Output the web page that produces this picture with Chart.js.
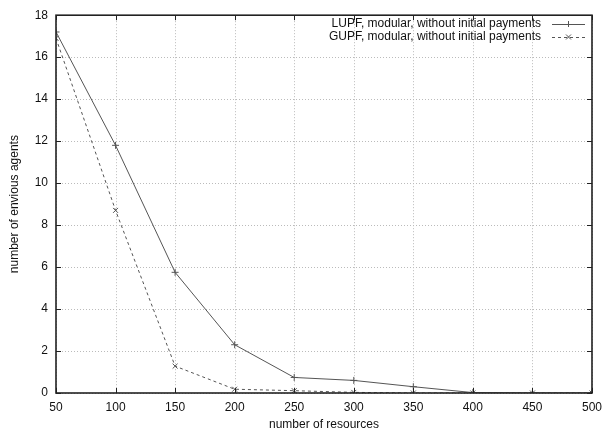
<!DOCTYPE html>
<html>
<head>
<meta charset="utf-8">
<script src="https://cdn.jsdelivr.net/npm/chart.js@4"></script>
<style>
  body { margin: 0; background: #fff; }
  #wrap { width: 609px; height: 432px; }
</style>
</head>
<body>
<div id="wrap"><canvas id="chart" width="609" height="432"></canvas></div>
<script>
// --- data ---
const resources = [50, 100, 150, 200, 250, 300, 350, 400, 450, 500];
const lupf = [17.2, 11.8, 5.75, 2.3, 0.74, 0.6, 0.3, 0.02, 0, 0];
const gupf = [16.9, 8.7, 1.28, 0.18, 0.11, 0.03, 0, 0, 0, 0];
const seriesLabels = ['LUPF, modular, without initial payments', 'GUPF, modular, without initial payments'];
const xTicks = [50, 100, 150, 200, 250, 300, 350, 400, 450, 500];
const yTicks = [0, 2, 4, 6, 8, 10, 12, 14, 16, 18];
const yTitle = 'number of envious agents';

const FONT = "'Liberation Sans', Arial, sans-serif";
const lineColor = '#555';

// dotted grid under the data
const dottedGrid = {
    id: 'dottedGrid',
    beforeDatasetsDraw(chart) {
        const c = chart.ctx;
        const a = chart.chartArea;
        const xs = chart.scales.x, ys = chart.scales.y;
        c.save();
        c.strokeStyle = '#bbb';
        c.lineWidth = 1;
        c.setLineDash([1, 2]);
        c.beginPath();
        xTicks.forEach(v => {
            const px = Math.round(xs.getPixelForValue(v)) + 0.5;
            c.moveTo(px, a.top); c.lineTo(px, a.bottom);
        });
        yTicks.forEach(v => {
            const py = Math.round(ys.getPixelForValue(v)) + 0.5;
            c.moveTo(a.left, py); c.lineTo(a.right, py);
        });
        c.stroke();
        c.restore();
    }
};

// gnuplot-ish frame, inward mirror ticks, y title and legend with samples on the right
const gnuplotFrame = {
    id: 'gnuplotFrame',
    afterDraw(chart) {
        const c = chart.ctx;
        const a = chart.chartArea;
        const xs = chart.scales.x, ys = chart.scales.y;
        c.save();
        c.strokeStyle = '#222';
        c.lineWidth = 1;
        c.setLineDash([]);
        // ticks
        c.beginPath();
        xTicks.forEach(v => {
            const px = Math.round(xs.getPixelForValue(v)) + 0.5;
            c.moveTo(px, a.bottom); c.lineTo(px, a.bottom - 5);
            c.moveTo(px, a.top); c.lineTo(px, a.top + 5);
        });
        yTicks.forEach(v => {
            const py = Math.round(ys.getPixelForValue(v)) + 0.5;
            c.moveTo(a.left, py); c.lineTo(a.left + 5, py);
            c.moveTo(a.right, py); c.lineTo(a.right - 5, py);
        });
        c.stroke();
        // frame
        c.lineWidth = 1.6;
        c.strokeRect(a.left, a.top, a.right - a.left, a.bottom - a.top);

        // y title, rotated
        c.save();
        c.translate(15, (a.top + a.bottom) / 2);
        c.rotate(-Math.PI / 2);
        c.font = '12px ' + FONT;
        c.fillStyle = '#111';
        c.textAlign = 'center';
        c.textBaseline = 'middle';
        c.fillText(yTitle, 0, 0);
        c.restore();

        // legend
        c.font = '12px ' + FONT;
        c.fillStyle = '#111';
        c.textAlign = 'right';
        c.textBaseline = 'middle';
        const rows = [
            { y: 24, dash: [], style: 'cross' },
            { y: 37, dash: [3, 3], style: 'crossRot' }
        ];
        rows.forEach((r, i) => {
            c.fillText(seriesLabels[i], 541, r.y);
            c.strokeStyle = lineColor;
            c.lineWidth = 1;
            c.setLineDash(r.dash);
            c.beginPath();
            c.moveTo(552, r.y + 0.5); c.lineTo(585, r.y + 0.5);
            c.stroke();
            c.setLineDash([]);
            c.beginPath();
            if (r.style === 'cross') {
                c.moveTo(568.5 - 3, r.y + 0.5); c.lineTo(568.5 + 3, r.y + 0.5);
                c.moveTo(568.5, r.y - 3); c.lineTo(568.5, r.y + 3);
            } else {
                c.moveTo(568.5 - 2.5, r.y - 2.5); c.lineTo(568.5 + 2.5, r.y + 2.5);
                c.moveTo(568.5 + 2.5, r.y - 2.5); c.lineTo(568.5 - 2.5, r.y + 2.5);
            }
            c.stroke();
        });
        c.restore();
    }
};

new Chart(document.getElementById('chart'), {
    type: 'line',
    data: {
        labels: resources,
        datasets: [
            {
                label: seriesLabels[0],
                data: resources.map((x, i) => ({ x: x, y: lupf[i] })),
                borderColor: lineColor,
                borderWidth: 1,
                pointStyle: 'cross',
                pointRadius: 3.5,
                pointBorderColor: lineColor,
                pointBorderWidth: 1,
                tension: 0,
                fill: false
            },
            {
                label: seriesLabels[1],
                data: resources.map((x, i) => ({ x: x, y: gupf[i] })),
                borderColor: lineColor,
                borderWidth: 1,
                borderDash: [3, 3],
                pointStyle: 'crossRot',
                pointRadius: 3.5,
                pointBorderColor: lineColor,
                pointBorderWidth: 1,
                tension: 0,
                fill: false
            }
        ]
    },
    options: {
        responsive: false,
        animation: false,
        events: [],
        layout: { padding: { left: 0, top: 12, right: 11, bottom: 0 } },
        plugins: {
            legend: { display: false },
            tooltip: { enabled: false }
        },
        scales: {
            x: {
                type: 'linear',
                min: 50,
                max: 500,
                afterBuildTicks: s => { s.ticks = xTicks.map(v => ({ value: v })); },
                afterFit: s => { s.height = 39; },
                border: { display: false },
                grid: { display: false, drawTicks: false },
                ticks: {
                    color: '#111',
                    padding: 7,
                    maxRotation: 0,
                    autoSkip: false,
                    font: { family: FONT, size: 12 }
                },
                title: {
                    display: true,
                    text: 'number of resources',
                    color: '#111',
                    padding: { top: 2, bottom: 0 },
                    font: { family: FONT, size: 12 }
                }
            },
            y: {
                min: 0,
                max: 18,
                afterBuildTicks: s => { s.ticks = yTicks.map(v => ({ value: v })); },
                afterFit: s => { s.width = 56; },
                border: { display: false },
                grid: { display: false, drawTicks: false },
                ticks: {
                    color: '#111',
                    padding: 8,
                    autoSkip: false,
                    font: { family: FONT, size: 12 }
                }
            }
        }
    },
    plugins: [dottedGrid, gnuplotFrame]
});
</script>
</body>
</html>
